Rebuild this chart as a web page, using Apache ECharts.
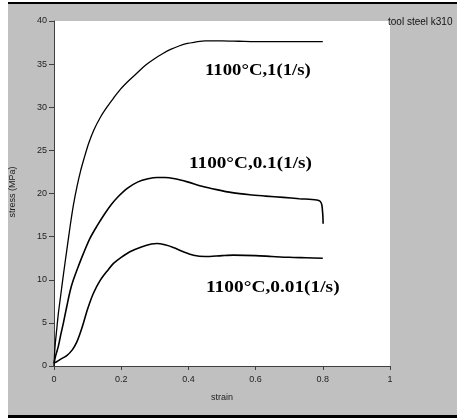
<!DOCTYPE html>
<html>
<head>
<meta charset="utf-8">
<script src="https://cdn.jsdelivr.net/npm/echarts@6/dist/echarts.min.js"></script>
<style>
html,body{margin:0;padding:0;background:#fff;}
#c{width:457px;height:418px;}
</style>
</head>
<body>
<div id="c"></div>
<script>
// ---- data ----
var xTicks = ['0', '0.2', '0.4', '0.6', '0.8', '1'];
var yTicks = ['0', '5', '10', '15', '20', '25', '30', '35', '40'];

var strain1 = [0, 0.003, 0.008, 0.013, 0.02, 0.028, 0.038, 0.048, 0.058, 0.069, 0.079, 0.089, 0.103, 0.119, 0.139, 0.159, 0.178, 0.198, 0.223, 0.248, 0.273, 0.298, 0.323, 0.347, 0.372, 0.397, 0.42, 0.45, 0.5, 0.55, 0.6, 0.7, 0.8];
var stress1 = [0, 2.2, 4.2, 6.1, 8.2, 10.6, 13.4, 16.2, 18.7, 20.9, 22.6, 24.0, 25.8, 27.4, 28.9, 30.1, 31.1, 32.1, 33.1, 34.0, 34.9, 35.6, 36.2, 36.7, 37.1, 37.4, 37.55, 37.7, 37.7, 37.65, 37.6, 37.6, 37.6];

var strain2 = [0, 0.005, 0.013, 0.02, 0.028, 0.038, 0.048, 0.057, 0.072, 0.087, 0.107, 0.129, 0.15, 0.17, 0.19, 0.218, 0.25, 0.28, 0.307, 0.33, 0.36, 0.397, 0.44, 0.484, 0.53, 0.583, 0.63, 0.682, 0.73, 0.782, 0.792, 0.797, 0.8, 0.801];
var stress2 = [0.3, 1.2, 2.3, 3.6, 5.0, 6.9, 8.7, 9.9, 11.5, 13.0, 14.8, 16.3, 17.6, 18.7, 19.6, 20.6, 21.35, 21.7, 21.85, 21.85, 21.7, 21.35, 20.85, 20.45, 20.1, 19.85, 19.7, 19.55, 19.4, 19.25, 19.1, 18.7, 17.5, 16.5];

var strain3 = [0, 0.008, 0.02, 0.038, 0.055, 0.067, 0.077, 0.087, 0.1, 0.117, 0.137, 0.162, 0.177, 0.2, 0.226, 0.26, 0.29, 0.306, 0.33, 0.355, 0.385, 0.415, 0.45, 0.5, 0.534, 0.6, 0.648, 0.7, 0.75, 0.8];
var stress3 = [0.35, 0.5, 0.8, 1.2, 1.9, 2.7, 3.7, 4.9, 6.6, 8.4, 9.9, 11.2, 11.9, 12.6, 13.25, 13.8, 14.15, 14.2, 14.05, 13.75, 13.25, 12.85, 12.7, 12.8, 12.85, 12.8, 12.7, 12.6, 12.55, 12.5];

var seriesNames = ['1100°C,1(1/s)', '1100°C,0.1(1/s)', '1100°C,0.01(1/s)'];
var chartTitle = 'tool steel k310';
var xName = 'strain';
var yName = 'stress (MPa)';

function pairs(xs, ys) { return xs.map(function (x, i) { return [x, ys[i]]; }); }

var chart = echarts.init(document.getElementById('c'), null, {renderer: 'canvas'});
var lbl = {fontFamily: 'Liberation Sans, Arial, sans-serif', fontSize: 9, color: '#222'};
var ann = {font: 'bold 16px "Liberation Serif", "Times New Roman", serif', fill: '#000'};

chart.setOption({
  backgroundColor: '#c0c0c0',
  animation: false,
  grid: {left: 54, top: 21, width: 336, height: 345, show: true, backgroundColor: '#fff', borderWidth: 0},
  xAxis: {
    type: 'value', min: 0, max: 1, interval: 0.2,
    axisLine: {show: true, lineStyle: {color: '#404040', width: 1}},
    axisTick: {show: true, length: 4, lineStyle: {color: '#404040'}},
    splitLine: {show: false},
    axisLabel: Object.assign({margin: 9, formatter: function (v) { return xTicks[Math.round(v / 0.2)]; }}, lbl)
  },
  yAxis: {
    type: 'value', min: 0, max: 40, interval: 5,
    axisLine: {show: true, lineStyle: {color: '#404040', width: 1}},
    axisTick: {show: true, length: 5, lineStyle: {color: '#404040'}},
    splitLine: {show: false},
    axisLabel: Object.assign({margin: 7, formatter: function (v) { return yTicks[Math.round(v / 5)]; }}, lbl)
  },
  series: [
    {name: seriesNames[0], type: 'line', data: pairs(strain1, stress1), showSymbol: false, smooth: 0.3, lineStyle: {color: '#000', width: 1.3}},
    {name: seriesNames[1], type: 'line', data: pairs(strain2, stress2), showSymbol: false, smooth: 0.3, lineStyle: {color: '#000', width: 1.6}},
    {name: seriesNames[2], type: 'line', data: pairs(strain3, stress3), showSymbol: false, smooth: 0.3, lineStyle: {color: '#000', width: 1.6}}
  ],
  graphic: [
    {type: 'rect', shape: {x: 0, y: 0, width: 8, height: 418}, style: {fill: '#fff'}, silent: true},
    {type: 'rect', shape: {x: 8, y: 0, width: 449, height: 2}, style: {fill: '#fff'}, silent: true},
    {type: 'rect', shape: {x: 8, y: 2, width: 449, height: 2}, style: {fill: '#000'}, silent: true},
    {type: 'rect', shape: {x: 8, y: 415, width: 449, height: 3}, style: {fill: '#000'}, silent: true},
    {type: 'text', x: 388, y: 22, style: {text: chartTitle, font: '10px "Liberation Sans", Arial, sans-serif', fill: '#111', textVerticalAlign: 'middle', verticalAlign: 'middle'}},
    {type: 'text', x: 222, y: 398, style: {text: xName, font: '9px "Liberation Sans", Arial, sans-serif', fill: '#222', textAlign: 'center', align: 'center', verticalAlign: 'middle', textVerticalAlign: 'middle'}},
    {type: 'text', x: 13, y: 192, rotation: Math.PI / 2, style: {text: yName, font: '9px "Liberation Sans", Arial, sans-serif', fill: '#222', textAlign: 'center', align: 'center', verticalAlign: 'middle', textVerticalAlign: 'middle'}},
    {type: 'text', x: 205, y: 71, scaleX: 1.17, style: Object.assign({text: seriesNames[0], verticalAlign: 'middle', textVerticalAlign: 'middle'}, ann)},
    {type: 'text', x: 189, y: 164, scaleX: 1.2, style: Object.assign({text: seriesNames[1], verticalAlign: 'middle', textVerticalAlign: 'middle'}, ann)},
    {type: 'text', x: 206, y: 288, scaleX: 1.21, style: Object.assign({text: seriesNames[2], verticalAlign: 'middle', textVerticalAlign: 'middle'}, ann)}
  ]
});
</script>
</body>
</html>
